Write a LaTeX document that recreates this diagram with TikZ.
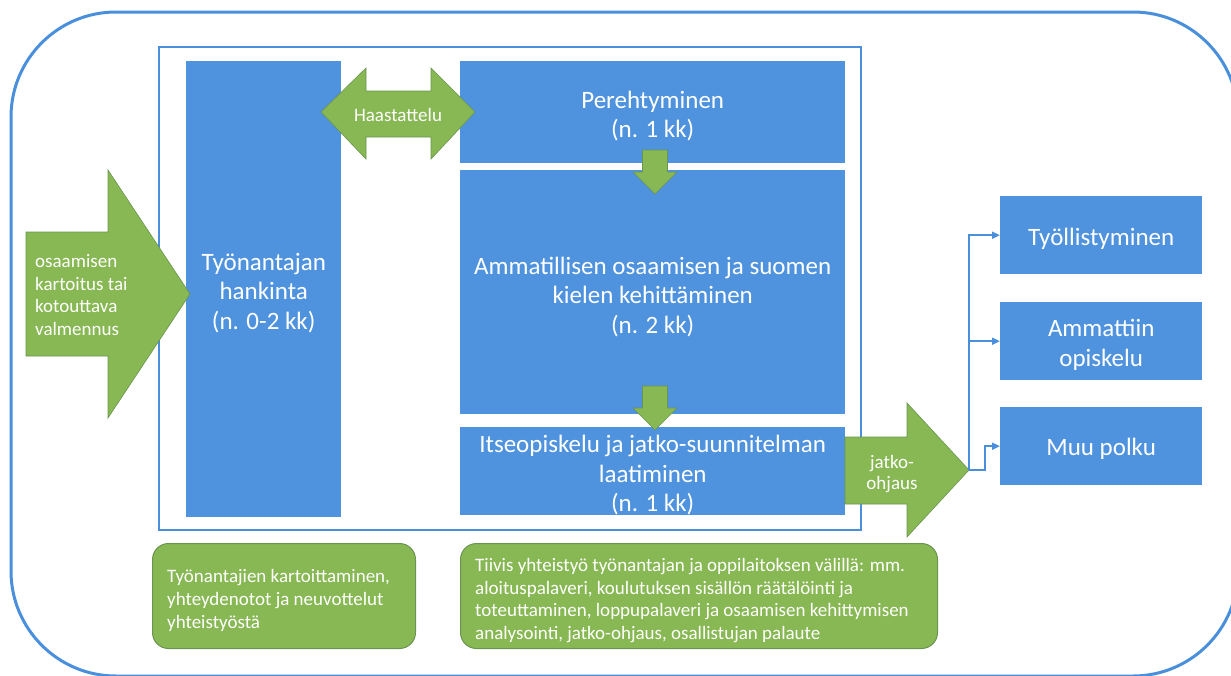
\documentclass[tikz,border=0pt]{standalone}
\usepackage{fontspec}
\setmainfont{Carlito}
\usetikzlibrary{arrows.meta}
\definecolor{boxblue}{HTML}{4F92DD}
\definecolor{frameblue}{HTML}{4A8FDB}
\definecolor{leaf}{HTML}{87B853}
\definecolor{leafedge}{HTML}{6A9450}
\begin{document}
\begin{tikzpicture}[x=1pt,y=-1pt,
  stage/.style={fill=boxblue, inner sep=0pt, anchor=north west},
  stagetext/.style={text=white, inner sep=0pt, align=center,
    font=\fontsize{25}{29.5}\selectfont},
  blockarrow/.style={fill=leaf, draw=leafedge, line width=0.6pt},
  arrowtext/.style={text=white, inner sep=0pt},
  note/.style={fill=leaf, draw=leafedge, line width=1pt, rounded corners=16pt,
    anchor=north west, inner sep=0pt, minimum height=105pt},
  notetext/.style={text=white, align=left, inner sep=0pt, anchor=west,
    font=\fontsize{19}{22.7}\selectfont},
  link/.style={draw=frameblue, line width=1.8pt, -{Triangle[length=8pt,width=7pt]}}]
\useasboundingbox (0,0) rectangle (1231,675);

% outer rounded frame, running past the right and bottom edges
\begin{scope}
  \clip (0,0) rectangle (1231,675);
  \draw[frameblue, line width=3pt, rounded corners=105pt] (11,12) rectangle (1238,676);
\end{scope}

% inner frame round the training phases
\draw[frameblue, line width=2.5pt] (159,47) rectangle (861,530);

% phase boxes
\node[stage, minimum width=155pt, minimum height=456pt] (hank) at (186,61) {};
\node[stagetext] (hank-t) at ([yshift=-3.5pt]hank.center) {Työnantajan\\hankinta\\(n. 0-2 kk)};
\node[stage, minimum width=385pt, minimum height=102pt] (pere) at (460,61) {};
\node[stagetext] (pere-t) at ([yshift=-4pt]pere.center) {Perehtyminen\\(n. 1 kk)};
\node[stage, minimum width=385pt, minimum height=244pt] (amm) at (460,170) {};
\node[stagetext] (amm-t) at ([yshift=-4.5pt]amm.center)
  {Ammatillisen osaamisen ja suomen\\kielen kehittäminen\\(n. 2 kk)};
\node[stage, minimum width=385pt, minimum height=88pt] (itse) at (460,427) {};
\node[stagetext] (itse-t) at ([yshift=-4pt]itse.center)
  {Itseopiskelu ja jatko-suunnitelman\\laatiminen\\(n. 1 kk)};

% outcome boxes
\node[stage, minimum width=202pt, minimum height=78pt] (tyo) at (1000,196) {};
\node[stagetext] (tyo-t) at ([yshift=-3.5pt]tyo.center) {Työllistyminen};
\node[stage, minimum width=202pt, minimum height=78pt] (opi) at (1000,302) {};
\node[stagetext] (opi-t) at ([yshift=-3.5pt]opi.center) {Ammattiin\\opiskelu};
\node[stage, minimum width=202pt, minimum height=78pt] (muu) at (1000,407) {};
\node[stagetext] (muu-t) at ([yshift=-3pt]muu.center) {Muu polku};

% interview double arrow
\draw[blockarrow] (321,112) -- (366,68) -- (366,91) -- (431,91) -- (431,68) -- (475,112)
  -- (431,159) -- (431,137) -- (366,137) -- (366,159) -- cycle;
\node[arrowtext, font=\fontsize{19}{22}\selectfont] (haas) at (398,115) {Haastattelu};

% downward arrows between phases
\draw[blockarrow] (642.5,150) -- (667.5,150) -- (667.5,172) -- (677,172) -- (655,194)
  -- (633,172) -- (642.5,172) -- cycle;
\draw[blockarrow] (642.5,386) -- (667.5,386) -- (667.5,408) -- (677,408) -- (655,430)
  -- (633,408) -- (642.5,408) -- cycle;

% entry arrow
\draw[blockarrow] (26,232) -- (108,232) -- (108,170) -- (190,294) -- (108,418)
  -- (108,356) -- (26,356) -- cycle;
\node[arrowtext, anchor=west, align=left, font=\fontsize{19}{22.5}\selectfont] (entry) at (35,295)
  {osaamisen\\kartoitus tai\\kotouttava\\valmennus};

% follow-up guidance arrow
\draw[blockarrow] (845,437) -- (907,437) -- (907,403) -- (969,470) -- (907,537)
  -- (907,504) -- (845,504) -- cycle;
\node[arrowtext, align=center, font=\fontsize{19}{21.5}\selectfont] (jatko) at (892,474)
  {jatko-\\ohjaus};
\coordinate (split) at (969,470);

% branches to the outcomes
\draw[link] (split) |- (tyo.west);
\draw[link] (split) |- (opi.west);
\draw[link] (split) -- ++(16,0) |- (muu.west);

% notes under the phases
\node[note, minimum width=263pt] (n1) at (152,543) {};
\node[notetext] (n1-t) at ([xshift=15pt,yshift=-4.5pt]n1.west)
  {Työnantajien kartoittaminen,\\yhteydenotot ja neuvottelut\\yhteistyöstä};
\node[note, minimum width=477pt] (n2) at (460,543) {};
\node[notetext] (n2-t) at ([xshift=15pt,yshift=-4.5pt]n2.west)
  {Tiivis yhteistyö työnantajan ja oppilaitoksen välillä: mm.\\aloituspalaveri, koulutuksen sisällön räätälöinti ja\\toteuttaminen, loppupalaveri ja osaamisen kehittymisen\\analysointi, jatko-ohjaus, osallistujan palaute};
\end{tikzpicture}
\end{document}
